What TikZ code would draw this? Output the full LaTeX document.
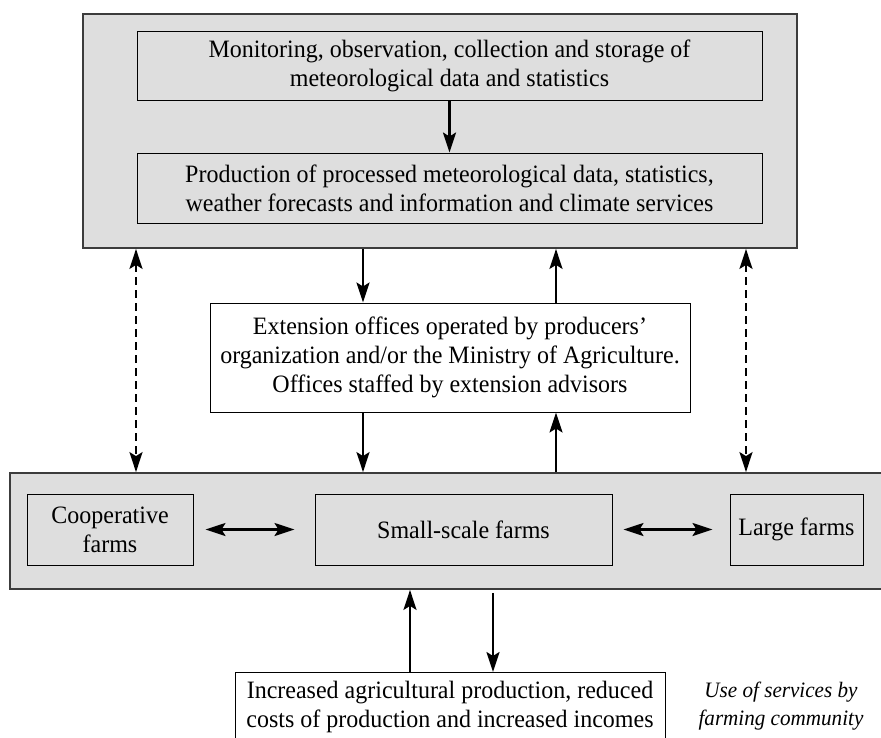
\documentclass[tikz,border=0pt]{standalone}
\usepackage{fontspec}
\setmainfont[FakeStretch=0.96]{Liberation Serif}
\usetikzlibrary{arrows.meta}
\definecolor{boxgray}{HTML}{DEDEDE}
\definecolor{edgegray}{HTML}{3C3C3C}
\begin{document}
\begin{tikzpicture}[x=1pt,y=-1pt,
  font=\fontsize{25pt}{29pt}\selectfont,
  outerbox/.style={draw=edgegray, line width=1.8pt, fill=boxgray, inner sep=0pt},
  graybox/.style={draw=black, line width=1pt, fill=boxgray, inner sep=0pt, align=center},
  whitebox/.style={draw=black, line width=1pt, fill=white, inner sep=0pt, align=center},
  plain/.style={inner sep=0pt, align=center},
  arr/.style={line width=2.2pt, -{Stealth[length=20pt,width=13pt,inset=4pt]}},
  darr/.style={line width=2.2pt, {Stealth[length=20pt,width=13pt,inset=4pt]}-{Stealth[length=20pt,width=13pt,inset=4pt]}},
  dashedarr/.style={darr, dash pattern=on 8pt off 5pt}
]
\useasboundingbox (0,0) rectangle (881,737);
\clip (0,0) rectangle (881,737);

% top group
\node[outerbox, minimum width=714pt, minimum height=234pt] (top) at (440,131) {};
\node[graybox, minimum width=625pt, minimum height=69pt] (mon) at (449.5,65.5)
  {Monitoring, observation, collection and storage of\\meteorological data and statistics};
\node[graybox, minimum width=625pt, minimum height=70pt] (prod) at (449.5,188)
  {Production of processed meteorological data, statistics,\\weather forecasts and information and climate services};

% extension box
\node[whitebox, minimum width=480pt, minimum height=109pt] (ext) at (450,357.5)
  {Extension offices operated by producers'\\organization and/or the Ministry of Agriculture.\\Offices staffed by extension advisors};

% lower group
\node[outerbox, minimum width=880pt, minimum height=116pt] (low) at (450,531) {};
\node[graybox, minimum width=166pt, minimum height=71pt] (coop) at (110,529.5) {Cooperative\\farms};
\node[graybox, minimum width=297pt, minimum height=71pt] (small) at (463.5,529.5) {Small-scale farms};
\node[graybox, minimum width=133pt, minimum height=71pt] (large) at (796.5,529.5) {Large farms};

% result box
\node[whitebox, minimum width=430pt, minimum height=90pt, anchor=north] (res) at (450,672) {};
\node[plain, anchor=north] (restext) at (450,681)
  {Increased agricultural production, reduced\\costs of production and increased incomes};
\node[plain, anchor=north, font=\fontsize{22pt}{28.5pt}\selectfont\itshape] (use) at (781,681.5)
  {Use of services by\\farming community};

% x positions of vertical connectors
\coordinate (xa) at (363,0);
\coordinate (xb) at (556,0);
\coordinate (xl) at (136,0);
\coordinate (xr) at (746,0);
\coordinate (xc) at (410,0);
\coordinate (xd) at (493,0);

% connectors
\draw[arr] (mon.south) -- (prod.north);
\draw[arr] (top.south -| xa) -- (ext.north -| xa);
\draw[arr] (ext.north -| xb) -- (top.south -| xb);
\draw[arr] (ext.south -| xa) -- (low.north -| xa);
\draw[arr] (low.north -| xb) -- (ext.south -| xb);
\draw[dashedarr] (top.south -| xl) -- (low.north -| xl);
\draw[dashedarr] (top.south -| xr) -- (low.north -| xr);
\draw[darr, shorten <=12pt, shorten >=20pt] (coop.east) -- (small.west);
\draw[darr, shorten <=11pt, shorten >=17pt] (small.east) -- (large.west);
\draw[arr] (res.north -| xc) -- (low.south -| xc);
\draw[arr, shorten <=3pt] (low.south -| xd) -- (res.north -| xd);
\end{tikzpicture}
\end{document}
